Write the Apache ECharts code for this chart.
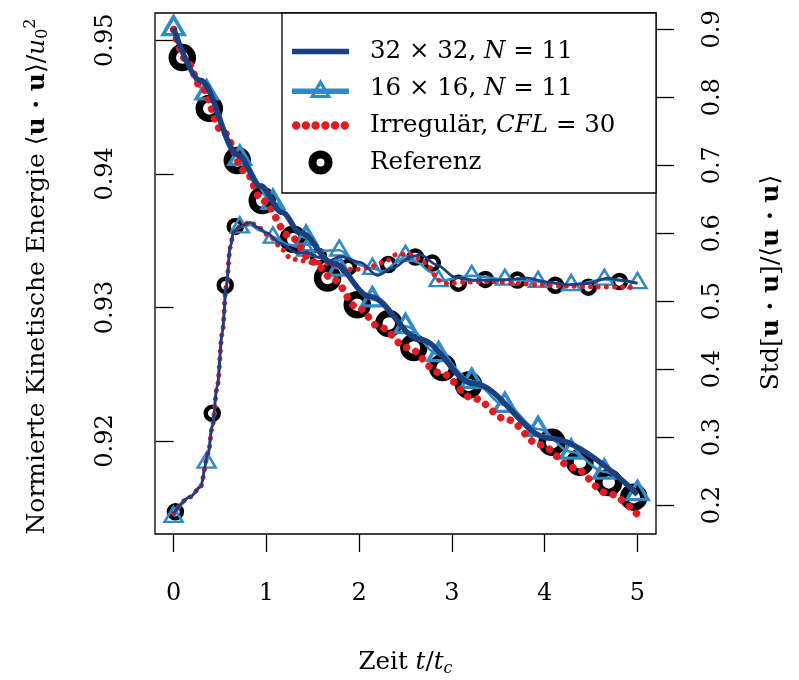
<!DOCTYPE html>
<html>
<head>
<meta charset="utf-8">
<script src="https://cdn.jsdelivr.net/npm/echarts@6/dist/echarts.min.js"></script>
<style>
  html, body { margin: 0; padding: 0; background: #fff; }
  #chart { width: 799px; height: 680px; }
</style>
</head>
<body>
<div id="chart"></div>
<script>
// ---- data: time t/t_c and values ----
// kinetic energy, 32x32, N=11
const tEnergy32 = [0, 0.288, 0.698, 0.935, 1.172, 1.366, 1.722, 2.121, 2.660, 3.231, 4.061, 5.0];
const energy32  = [0.9509, 0.9470, 0.9414, 0.9391, 0.9371, 0.9356, 0.9333, 0.9308, 0.9276, 0.9243, 0.9202, 0.9160];

// kinetic energy, 16x16, N=11 (output times)
const t16      = [0, 0.357, 0.714, 1.071, 1.429, 1.786, 2.143, 2.5, 2.857, 3.214, 3.571, 3.929, 4.286, 4.643, 5];
const energy16 = [0.9509, 0.9461, 0.9412, 0.9379, 0.9352, 0.9329, 0.9306, 0.9286, 0.9265, 0.9245, 0.9227, 0.9209, 0.9192, 0.9177, 0.9161];

// kinetic energy, irregular mesh, CFL=30
const tEnergyIrr = [0, 0.148, 0.288, 0.525, 0.773, 0.956, 1.258, 1.506, 1.722, 1.980, 2.228, 2.519, 2.875, 3.231, 3.597, 3.953, 4.309, 4.676, 5.0];
const energyIrr  = [0.9508, 0.9484, 0.9466, 0.9432, 0.9402, 0.9380, 0.9353, 0.9334, 0.9321, 0.9300, 0.9285, 0.9270, 0.9251, 0.9232, 0.9216, 0.9197, 0.9180, 0.9161, 0.9145];

// kinetic energy, reference
const tEnergyRef = [0.094, 0.385, 0.687, 0.956, 1.29, 1.66, 1.98, 2.32, 2.59, 2.90, 3.18, 4.08, 4.38, 4.69, 4.96];
const energyRef  = [0.9487, 0.9449, 0.9410, 0.9380, 0.9351, 0.9322, 0.9302, 0.9288, 0.9270, 0.9255, 0.9242, 0.9199, 0.9184, 0.9169, 0.9158];

// Std[u.u]/<u.u>, 32x32
const tStd32 = [0, 0.180, 0.288, 0.374, 0.417, 0.471, 0.525, 0.568, 0.611, 0.644, 0.698, 0.827, 0.902, 1.010, 1.150, 1.334, 1.441, 1.549, 1.689, 1.797, 2.013, 2.196, 2.368, 2.552, 2.660, 2.843, 3.037, 3.231, 3.522, 3.813, 4.029, 4.244, 4.460, 4.676, 4.816, 5.0];
const std32  = [0.188, 0.212, 0.226, 0.276, 0.315, 0.374, 0.453, 0.521, 0.579, 0.601, 0.609, 0.616, 0.609, 0.600, 0.585, 0.571, 0.572, 0.565, 0.560, 0.566, 0.557, 0.538, 0.549, 0.565, 0.568, 0.553, 0.535, 0.531, 0.531, 0.534, 0.528, 0.524, 0.526, 0.534, 0.531, 0.526];

// Std, 16x16 (dense line; markers at the output times t16)
const tStd16 = [0, 0.18, 0.288, 0.357, 0.417, 0.471, 0.525, 0.568, 0.611, 0.65, 0.714, 0.83, 0.93, 1.071, 1.25, 1.429, 1.6, 1.786, 2.01, 2.143, 2.26, 2.41, 2.5, 2.63, 2.77, 2.857, 3.214, 3.571, 3.929, 4.286, 4.643, 5];
const std16  = [0.183, 0.212, 0.228, 0.263, 0.318, 0.376, 0.455, 0.522, 0.580, 0.603, 0.609, 0.612, 0.604, 0.594, 0.583, 0.575, 0.574, 0.575, 0.553, 0.548, 0.544, 0.557, 0.567, 0.557, 0.543, 0.530, 0.5375, 0.532, 0.529, 0.524, 0.532, 0.527];

// Std, irregular mesh
const tStdIrr = [0, 0.180, 0.288, 0.374, 0.417, 0.471, 0.525, 0.568, 0.611, 0.644, 0.698, 0.827, 0.935, 1.043, 1.183, 1.258, 1.366, 1.474, 1.603, 1.797, 1.937, 2.088, 2.261, 2.412, 2.519, 2.660, 2.768, 2.843, 2.951, 3.166, 3.414, 3.705, 3.953, 4.244, 4.525, 4.848, 5.0];
const stdIrr  = [0.188, 0.212, 0.226, 0.276, 0.315, 0.374, 0.453, 0.521, 0.579, 0.601, 0.609, 0.616, 0.607, 0.594, 0.575, 0.563, 0.560, 0.557, 0.556, 0.551, 0.546, 0.549, 0.557, 0.569, 0.569, 0.562, 0.549, 0.531, 0.526, 0.528, 0.529, 0.526, 0.524, 0.522, 0.521, 0.521, 0.519];

// Std, reference
const tStdRef = [0.02, 0.417, 0.557, 0.665, 1.561, 1.884, 2.315, 2.606, 2.789, 3.070, 3.361, 3.706, 4.116, 4.471, 4.806];
const stdRef  = [0.190, 0.335, 0.5235, 0.610, 0.566, 0.550, 0.554, 0.565, 0.556, 0.5265, 0.532, 0.531, 0.5235, 0.5206, 0.529];

// axis ticks
const xTicks = [0, 1, 2, 3, 4, 5];
const xTickLabels = ['0', '1', '2', '3', '4', '5'];
const energyTicks = [0.92, 0.93, 0.94, 0.95];
const energyTickLabels = ['0.92', '0.93', '0.94', '0.95'];
const stdTicks = [0.2, 0.3, 0.4, 0.5, 0.6, 0.7, 0.8, 0.9];
const stdTickLabels = ['0.2', '0.3', '0.4', '0.5', '0.6', '0.7', '0.8', '0.9'];

// series names (legend)
const seriesNames = ['32 × 32, N = 11', '16 × 16, N = 11', 'Irregulär, CFL = 30', 'Referenz'];
const legendRich = [
  '32 × 32, {i|N} = 11',
  '16 × 16, {i|N} = 11',
  'Irregulär, {i|CFL} = 30',
  'Referenz'
];

// ---- styling ----
const FONT = 'DejaVu Serif';
const NAVY = '#1c3f7f';
const LIGHT = '#3189c5';
const RED = '#e01b22';

// legend glyphs (drawn 1:1 inside a 57 x 24 legend item)
const dotPath = (c, r) => `M${c - r},0A${r},${r},0,1,1,${c + r},0A${r},${r},0,1,1,${c - r},0Z`;
const iconSolid = 'path://M0,0L57,0L57,5.5L0,5.5Z';
const iconTriangle = 'path://M0,9.5L57,9.5L57,15L0,15Z' +
  'M28.5,0L39.5,19L17.5,19Z' +        // outer triangle
  'M28.5,6.5L22.8,16L34.2,16Z';       // inner triangle, opposite winding
const iconDots = 'path://' + [4.2, 13.9, 23.6, 33.4, 43.1, 52.8].map(c => dotPath(c, 4.2)).join('');
const iconRing = 'path://M0,-13.5A13.5,13.5,0,1,1,0,13.5A13.5,13.5,0,1,1,0,-13.5Z' +
  'M0,-4.5A4.5,4.5,0,1,0,0,4.5A4.5,4.5,0,1,0,0,-4.5Z';

const zip = (xs, ys) => xs.map((x, i) => [x, ys[i]]);
const labelFor = (ticks, labels) => v => {
  const i = ticks.findIndex(t => Math.abs(t - v) < 1e-9);
  return i >= 0 ? labels[i] : '';
};

const chart = echarts.init(document.getElementById('chart'), null, { renderer: 'canvas' });

const axisTickStyle = { show: true, inside: false, length: 18, lineStyle: { color: '#000', width: 1.3 } };
const labelStyle = { fontFamily: FONT, fontSize: 24, color: '#000' };

const option = {
  animation: false,
  backgroundColor: '#fff',
  textStyle: { fontFamily: FONT, color: '#000' },
  grid: {
    left: 155, right: 143, top: 13, bottom: 146,
    containLabel: false, outerBoundsMode: 'none',
    show: true, borderColor: '#000', borderWidth: 1.3, backgroundColor: 'transparent'
  },
  xAxis: {
    type: 'value', min: -0.2, max: 5.2,
    axisLine: { show: false },
    axisTick: Object.assign({ customValues: xTicks }, axisTickStyle),
    axisLabel: Object.assign({ customValues: xTicks, margin: 48, formatter: labelFor(xTicks, xTickLabels) }, labelStyle),
    splitLine: { show: false },
    name: '{n|Zeit }{i|t}{n|/}{i|t}{sub|c}',
    nameLocation: 'middle', nameGap: 115,
    nameTextStyle: {
      rich: {
        n: { fontFamily: FONT, fontSize: 24.5, color: '#000' },
        i: { fontFamily: FONT, fontSize: 24.5, fontStyle: 'italic', color: '#000' },
        sub: { fontFamily: FONT, fontSize: 16, fontStyle: 'italic', color: '#000', padding: [12, 0, 0, 0] }
      }
    }
  },
  yAxis: [
    {
      type: 'value', min: 0.91304, max: 0.95204, position: 'left',
      axisLine: { show: false },
      axisTick: Object.assign({ customValues: energyTicks }, axisTickStyle),
      axisLabel: Object.assign({ customValues: energyTicks, rotate: 90, margin: 37, formatter: labelFor(energyTicks, energyTickLabels) }, labelStyle),
      splitLine: { show: false },
      name: '{n|Normierte Kinetische Energie ⟨}{b|u · u}{n|⟩/}{i|u}{sub|0}{sup|2}',
      nameLocation: 'middle', nameRotate: 90, nameGap: 104,
      nameTextStyle: {
        padding: [0, 6, 0, 0],
        rich: {
          n: { fontFamily: FONT, fontSize: 25, color: '#000' },
          b: { fontFamily: FONT, fontSize: 25, fontWeight: 'bold', color: '#000' },
          i: { fontFamily: FONT, fontSize: 25, fontStyle: 'italic', color: '#000' },
          sub: { fontFamily: FONT, fontSize: 16, color: '#000', padding: [12, 0, 0, 0] },
          sup: { fontFamily: FONT, fontSize: 16, color: '#000', padding: [0, 0, 12, 0] }
        }
      }
    },
    {
      type: 'value', min: 0.1574, max: 0.924, position: 'right',
      axisLine: { show: false },
      axisTick: Object.assign({ customValues: stdTicks }, axisTickStyle),
      axisLabel: Object.assign({ customValues: stdTicks, rotate: 90, margin: 45, formatter: labelFor(stdTicks, stdTickLabels) }, labelStyle),
      splitLine: { show: false },
      name: '{n|Std[}{b|u · u}{n|]/⟨}{b|u · u}{n|⟩}',
      nameLocation: 'middle', nameRotate: 90, nameGap: 103,
      nameTextStyle: {
        padding: [0, 18, 0, 0],
        rich: {
          n: { fontFamily: FONT, fontSize: 25, color: '#000' },
          b: { fontFamily: FONT, fontSize: 25, fontWeight: 'bold', color: '#000' }
        }
      }
    }
  ],
  legend: {
    data: [
      { name: seriesNames[0], icon: iconSolid, itemStyle: { color: NAVY, borderWidth: 0 } },
      { name: seriesNames[1], icon: iconTriangle, itemStyle: { color: LIGHT, borderWidth: 0 } },
      { name: seriesNames[2], icon: iconDots, itemStyle: { color: RED, borderWidth: 0 } },
      { name: seriesNames[3], icon: iconRing, itemStyle: { color: '#000', borderWidth: 0, opacity: 1 } }
    ],
    orient: 'vertical', left: 287, top: 34,
    itemWidth: 57, itemHeight: 24, itemGap: 12,
    selectedMode: false, z: 20,
    formatter: name => legendRich[seriesNames.indexOf(name)],
    textStyle: {
      fontFamily: FONT, fontSize: 24.5, color: '#000', padding: [0, 0, 0, 16],
      rich: { i: { fontFamily: FONT, fontSize: 24.5, fontStyle: 'italic', color: '#000' } }
    }
  },
  graphic: [{
    type: 'rect', z: 1,
    shape: { x: 282, y: 13, width: 374, height: 180 },
    style: { fill: '#fff', stroke: '#000', lineWidth: 1.3 }
  }],
  series: [
    // energy (left axis)
    {
      name: seriesNames[0], type: 'line', yAxisIndex: 0, z: 6,
      data: zip(tEnergy32, energy32), smooth: 0.35, smoothMonotone: 'x',
      showSymbol: false, symbol: 'none',
      lineStyle: { color: NAVY, width: 5.5 }, itemStyle: { color: NAVY }
    },
    {
      name: seriesNames[1], type: 'line', yAxisIndex: 0, z: 4,
      data: zip(t16, energy16), smooth: 0.35, smoothMonotone: 'x',
      symbol: 'triangle', symbolSize: [21, 18], symbolOffset: [0, -2.5], showAllSymbol: true,
      lineStyle: { color: LIGHT, width: 2.5 },
      itemStyle: { color: 'rgba(255,255,255,0)', borderColor: LIGHT, borderWidth: 3.5 }
    },
    {
      name: seriesNames[2], type: 'line', yAxisIndex: 0, z: 5,
      data: zip(tEnergyIrr, energyIrr), smooth: 0.35, smoothMonotone: 'x',
      showSymbol: false, symbol: 'none',
      lineStyle: { color: RED, width: 7.5, type: [0.01, 10], cap: 'round' }, itemStyle: { color: RED }
    },
    {
      name: seriesNames[3], type: 'scatter', yAxisIndex: 0, z: 3,
      data: zip(tEnergyRef, energyRef),
      symbol: 'circle', symbolSize: 20,
      itemStyle: { color: 'rgba(255,255,255,0)', borderColor: '#000', borderWidth: 7.5, opacity: 1 }
    },
    // Std (right axis)
    {
      name: seriesNames[0], type: 'line', yAxisIndex: 1, z: 6,
      data: zip(tStd32, std32), smooth: 0.3, smoothMonotone: 'x',
      showSymbol: false, symbol: 'none',
      lineStyle: { color: NAVY, width: 2.8 }, itemStyle: { color: NAVY }
    },
    {
      name: seriesNames[1], type: 'line', yAxisIndex: 1, z: 4,
      data: tStd16.map((t, i) => ({
        value: [t, std16[i]],
        symbol: t16.indexOf(t) >= 0 ? 'triangle' : 'none'
      })),
      smooth: 0.3, smoothMonotone: 'x',
      symbol: 'triangle', symbolSize: [18, 15], symbolOffset: [0, -2.2], showAllSymbol: true,
      lineStyle: { color: LIGHT, width: 2.5 },
      itemStyle: { color: 'rgba(255,255,255,0)', borderColor: LIGHT, borderWidth: 2.5 }
    },
    {
      name: seriesNames[2], type: 'line', yAxisIndex: 1, z: 5,
      data: zip(tStdIrr, stdIrr), smooth: 0.3, smoothMonotone: 'x',
      showSymbol: false, symbol: 'none',
      lineStyle: { color: RED, width: 5, type: [0.01, 8], cap: 'round' }, itemStyle: { color: RED }
    },
    {
      name: seriesNames[3], type: 'scatter', yAxisIndex: 1, z: 3,
      data: zip(tStdRef, stdRef),
      symbol: 'circle', symbolSize: 13,
      itemStyle: { color: 'rgba(255,255,255,0)', borderColor: '#000', borderWidth: 4.5, opacity: 1 }
    }
  ]
};

chart.setOption(option);
</script>
</body>
</html>
